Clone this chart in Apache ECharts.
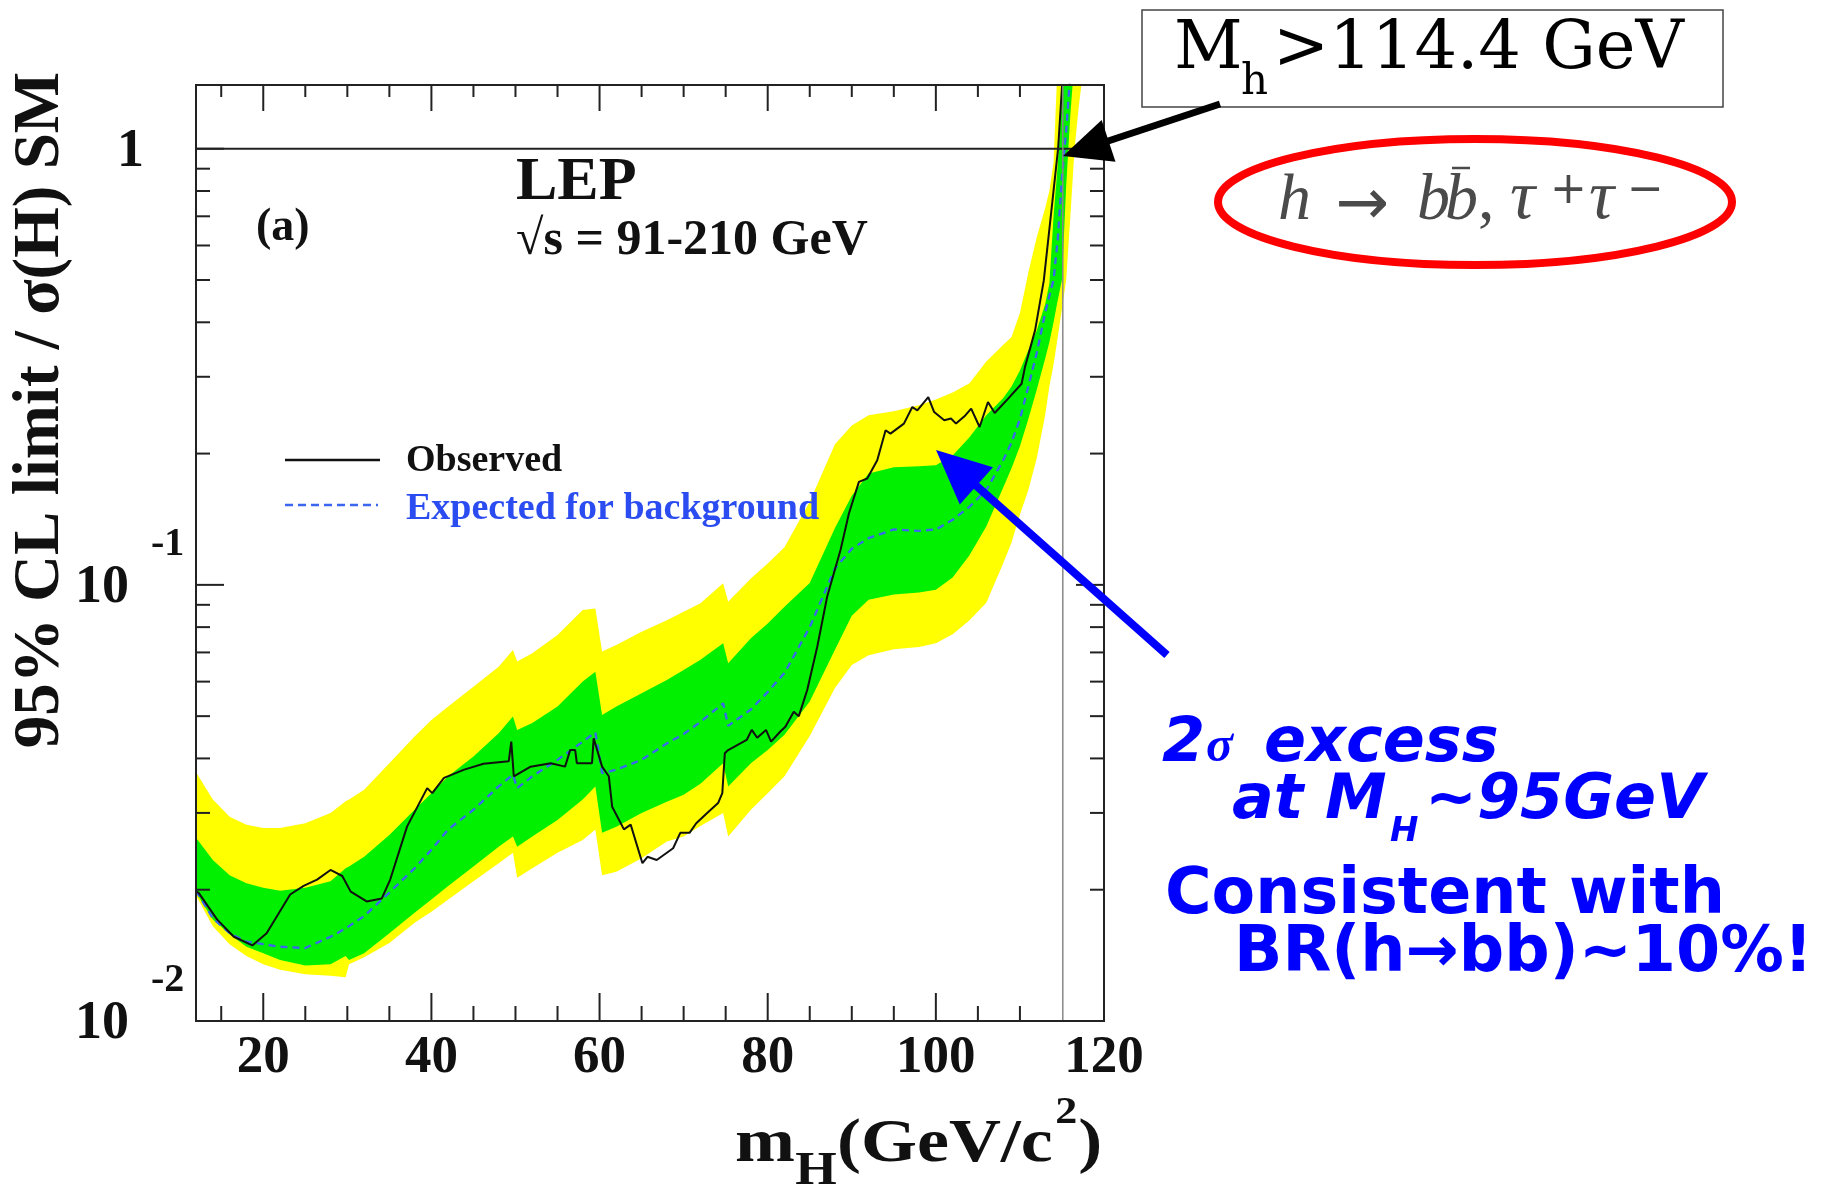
<!DOCTYPE html>
<html><head><meta charset="utf-8">
<script src="https://cdn.jsdelivr.net/npm/echarts@6/dist/echarts.min.js"></script>
<style>html,body{margin:0;padding:0;background:#fff}#c{width:1825px;height:1191px}</style>
</head><body><div id="c"></div>
<script>
// ---------- data ----------
const bandX = [12, 14, 16, 18, 20, 22, 25, 28, 29.8, 30.2, 32, 35, 38, 40, 42, 45, 48, 49.7, 50.2, 52, 55, 58, 59.5, 60.3, 62, 65, 68, 70, 72, 74.7, 75.3, 78, 80, 82, 85, 88, 90, 92, 95, 98, 100, 102, 104, 106, 108, 109, 110, 111, 112, 113, 113.5, 114, 114.5, 115, 115.5, 116, 116.5, 117, 117.5, 118, 120];
const yellowUp = [0.0372, 0.0322, 0.0294, 0.0282, 0.0277, 0.0277, 0.0284, 0.0300, 0.0319, 0.0322, 0.0339, 0.0390, 0.0449, 0.0490, 0.0526, 0.0584, 0.0649, 0.0709, 0.0667, 0.0697, 0.0767, 0.0876, 0.0883, 0.0703, 0.0728, 0.0781, 0.0830, 0.0868, 0.0907, 0.1008, 0.0915, 0.1034, 0.1119, 0.1220, 0.1550, 0.2100, 0.2320, 0.2450, 0.2500, 0.2580, 0.2660, 0.2760, 0.2900, 0.3250, 0.3550, 0.3700, 0.4200, 0.5200, 0.6270, 0.7300, 0.8000, 0.9300, 1.6, 3, 4, 5, 6, 7, 8, 9, 10];
const greenUp = [0.0263, 0.0234, 0.0216, 0.0207, 0.0202, 0.0199, 0.0202, 0.0209, 0.0224, 0.0226, 0.0238, 0.0267, 0.0305, 0.0333, 0.0364, 0.0404, 0.0457, 0.0499, 0.0465, 0.0482, 0.0526, 0.0600, 0.0632, 0.0503, 0.0526, 0.0564, 0.0605, 0.0638, 0.0673, 0.0735, 0.0661, 0.0754, 0.0816, 0.0891, 0.1010, 0.1350, 0.1600, 0.1800, 0.1860, 0.1870, 0.1880, 0.1980, 0.2180, 0.2450, 0.2680, 0.2850, 0.3100, 0.3450, 0.3830, 0.4400, 0.4900, 0.7000, 0.9200, 1.3, 2.0, 3.0, 4, 5, 6, 7, 8];
const expected = [0.0199, 0.0172, 0.0159, 0.0152, 0.0150, 0.0148, 0.0147, 0.0156, 0.0163, 0.0165, 0.0174, 0.0197, 0.0224, 0.0247, 0.0275, 0.0305, 0.0345, 0.0367, 0.0342, 0.0364, 0.0397, 0.0437, 0.0459, 0.0370, 0.0377, 0.0397, 0.0433, 0.0455, 0.0485, 0.0535, 0.0475, 0.0518, 0.0568, 0.0628, 0.0800, 0.1090, 0.1210, 0.1280, 0.1340, 0.1330, 0.1340, 0.1410, 0.1510, 0.1650, 0.1930, 0.2120, 0.2400, 0.2850, 0.3400, 0.4200, 0.4600, 0.5000, 0.6200, 0.8600, 1.1, 1.5, 2.0, 2.8, 3.5, 4.5, 6];
const greenLo = [0.0197, 0.0171, 0.0158, 0.0148, 0.0143, 0.0138, 0.0134, 0.0135, 0.0141, 0.0138, 0.0143, 0.0159, 0.0177, 0.0190, 0.0204, 0.0226, 0.0251, 0.0265, 0.0251, 0.0265, 0.0289, 0.0322, 0.0345, 0.0270, 0.0279, 0.0300, 0.0318, 0.0330, 0.0350, 0.0390, 0.0345, 0.0390, 0.0418, 0.0453, 0.0540, 0.0710, 0.0850, 0.0925, 0.0950, 0.0960, 0.0975, 0.1040, 0.1170, 0.1360, 0.1670, 0.1850, 0.2080, 0.2400, 0.2800, 0.3300, 0.3600, 0.4000, 0.4500, 0.5000, 0.8200, 1.2, 1.6, 2.2, 3.0, 4.0, 5];
const yellowLo = [0.0194, 0.0165, 0.0150, 0.0141, 0.0135, 0.0131, 0.0128, 0.0127, 0.0126, 0.0135, 0.0140, 0.0151, 0.0168, 0.0178, 0.0190, 0.0209, 0.0230, 0.0243, 0.0213, 0.0224, 0.0243, 0.0260, 0.0275, 0.0216, 0.0220, 0.0236, 0.0258, 0.0265, 0.0280, 0.0300, 0.0265, 0.0305, 0.0333, 0.0364, 0.0450, 0.0580, 0.0655, 0.0690, 0.0712, 0.0720, 0.0735, 0.0770, 0.0830, 0.0910, 0.1120, 0.1250, 0.1450, 0.1650, 0.1950, 0.2450, 0.2850, 0.3200, 0.3700, 0.4300, 0.5000, 0.7000, 1.0, 1.25, 1.5, 2.0, 3];

const obsX = [12, 12.3, 14.5, 16.5, 18.7, 20.4, 23.2, 24.8, 26.4, 28.0, 29.4, 30.4, 32.3, 34.1, 35.1, 37.1, 39.5, 40.1, 41.5, 43.9, 46.2, 49.2, 49.5, 49.8, 51.8, 54.2, 55.9, 56.5, 57.1, 57.3, 59.1, 59.3, 60.3, 61.1, 61.5, 62.9, 63.7, 65.1, 65.7, 66.8, 68.75, 69.6, 70.7, 71.5, 72.8, 74.1, 74.6, 74.9, 75.3, 77.5, 78.1, 78.75, 79.8, 80.4, 81.5, 82.1, 83.1, 83.7, 84.7, 85.9, 87.07, 88.66, 89.66, 90.85, 91.84, 93.03, 94.02, 94.6, 96.2, 97.2, 97.8, 99.1, 99.8, 101.0, 101.8, 102.4, 103.4, 104.2, 105.2, 106.2, 107.0, 108.6, 110.2, 110.6, 111.8, 112.84, 113.83, 114.54, 115.0, 115.4];
const obsY = [0.0198, 0.0197, 0.0171, 0.0156, 0.0149, 0.0159, 0.0195, 0.0204, 0.0211, 0.0222, 0.0215, 0.0198, 0.0188, 0.0191, 0.0211, 0.0279, 0.0342, 0.0333, 0.0361, 0.0377, 0.0389, 0.0394, 0.0437, 0.0364, 0.0383, 0.0390, 0.0383, 0.0418, 0.0418, 0.0390, 0.0390, 0.0445, 0.0383, 0.0364, 0.0310, 0.0275, 0.0282, 0.0230, 0.0238, 0.0234, 0.0249, 0.0270, 0.0270, 0.0284, 0.0300, 0.0316, 0.0333, 0.0411, 0.0418, 0.0441, 0.0465, 0.0446, 0.0465, 0.0437, 0.0461, 0.0473, 0.0512, 0.0500, 0.0574, 0.0722, 0.0939, 0.1202, 0.1458, 0.1722, 0.1753, 0.1931, 0.2262, 0.2222, 0.2343, 0.2557, 0.2513, 0.2696, 0.2490, 0.2384, 0.2406, 0.2343, 0.2435, 0.2535, 0.2301, 0.2626, 0.2478, 0.2673, 0.2892, 0.3157, 0.3833, 0.4990, 0.7470, 1.0, 1.383, 2.0];

const xMin = 12, xMax = 120, yMin = 0.01, yMax = 1.4;
const xTickVals = [15, 20, 25, 30, 35, 40, 45, 50, 55, 60, 65, 70, 75, 80, 85, 90, 95, 100, 105, 110, 120];
const xMajor = [20, 40, 60, 80, 100, 120];
const xLabels = ['20', '40', '60', '80', '100', '120'];
const yTickVals = [0.02, 0.03, 0.04, 0.05, 0.06, 0.07, 0.08, 0.09, 0.1, 0.2, 0.3, 0.4, 0.5, 0.6, 0.7, 0.8, 0.9, 1];
const yMajor = [0.1, 1];
const yLabelVals = [1, 0.1, 0.01];
const yLabelBase = ['1', '10', '10'];
const yLabelExp = ['', '-1', '-2'];
const limitMass = 115.1;
const refLine = 1;

// ---------- helpers ----------
const SERIF = '"Liberation Serif", "Times New Roman", serif';
const SANS = '"DejaVu Sans", sans-serif';
function font(size, weight, style, fam) { return (style || 'normal') + ' ' + (weight || 'normal') + ' ' + size + 'px ' + fam; }
function T(text, x, base, size, fam, weight, style, fill, align, extra) {
  const o = { type: 'text', x: x, y: base - 0.33 * size, z: 100,
    style: { text: text, x: 0, y: 0, font: font(size, weight, style, fam), fill: fill || '#000',
      textAlign: align || 'left', align: align || 'left', textVerticalAlign: 'middle', verticalAlign: 'middle' } };
  if (extra) Object.assign(o, extra);
  return o;
}
function arrow(x0, y0, x1, y1, L, W, lw, color) {
  const dx = x1 - x0, dy = y1 - y0, len = Math.hypot(dx, dy);
  const ux = dx / len, uy = dy / len, nx = -uy, ny = ux;
  const bx = x1 - ux * L, by = y1 - uy * L;
  return [
    { type: 'line', z: 100, shape: { x1: x0, y1: y0, x2: bx + ux * 2, y2: by + uy * 2 }, style: { stroke: color, lineWidth: lw } },
    { type: 'polygon', z: 100, shape: { points: [[x1, y1], [bx + nx * W, by + ny * W], [bx - nx * W, by - ny * W]] }, style: { fill: color } }
  ];
}

function bandPoints(api, lo, hi) {
  const pts = [];
  for (let i = 0; i < bandX.length; i++) pts.push(api.coord([bandX[i], hi[i]]));
  for (let i = bandX.length - 1; i >= 0; i--) pts.push(api.coord([bandX[i], lo[i]]));
  return pts;
}

function renderFrame(params, api) {
  const cs = params.coordSys;
  const x0 = cs.x, y0 = cs.y, x1 = cs.x + cs.width, y1 = cs.y + cs.height;
  const ch = [];
  const ln = (a, b, c, d, w) => ({ type: 'line', shape: { x1: a, y1: b, x2: c, y2: d }, style: { stroke: '#222', lineWidth: w || 2 } });
  xTickVals.forEach(v => {
    const px = api.coord([v, yMin])[0];
    const maj = xMajor.indexOf(v) >= 0;
    ch.push(ln(px, y1, px, y1 - (maj ? 28 : 15)), ln(px, y0, px, y0 + (maj ? 26 : 12)));
  });
  yTickVals.forEach(v => {
    const py = api.coord([xMin, v])[1];
    const L = yMajor.indexOf(v) >= 0 ? 28 : 14;
    ch.push(ln(x0, py, x0 + L, py), ln(x1, py, x1 - L, py));
  });
  ch.push({ type: 'rect', shape: { x: x0, y: y0, width: cs.width, height: cs.height }, style: { fill: 'none', stroke: '#222', lineWidth: 2 } });
  xMajor.forEach((v, i) => {
    const p = api.coord([v, yMin]);
    ch.push({ type: 'text', x: p[0], y: p[1] + 37, style: { text: xLabels[i], x: 0, y: 0, font: font(53, 'bold', 'normal', SERIF), fill: '#111',
      textAlign: 'center', align: 'center', textVerticalAlign: 'middle', verticalAlign: 'middle' } });
  });
  yLabelVals.forEach((v, i) => {
    const p = api.coord([xMin, v]);
    if (!yLabelExp[i]) {
      ch.push({ type: 'text', x: x0 - 52, y: p[1] + 3, style: { text: yLabelBase[i], x: 0, y: 0, font: font(54, 'bold', 'normal', SERIF), fill: '#111',
        textAlign: 'right', align: 'right', textVerticalAlign: 'middle', verticalAlign: 'middle' } });
    } else {
      ch.push({ type: 'text', x: x0 - 67, y: p[1] + 3, style: { text: yLabelBase[i], x: 0, y: 0, font: font(54, 'bold', 'normal', SERIF), fill: '#111',
        textAlign: 'right', align: 'right', textVerticalAlign: 'middle', verticalAlign: 'middle' } });
      ch.push({ type: 'text', x: x0 - 45, y: p[1] - 40, style: { text: yLabelExp[i], x: 0, y: 0, font: font(40, 'bold', 'normal', SERIF), fill: '#111',
        textAlign: 'left', align: 'left', textVerticalAlign: 'middle', verticalAlign: 'middle' } });
    }
  });
  return { type: 'group', children: ch };
}

// ---------- annotations ----------
const graphics = [];
// box with limit
graphics.push({ type: 'rect', z: 99, shape: { x: 1142, y: 10, width: 581, height: 97 }, style: { fill: '#fff', stroke: '#444', lineWidth: 1.5 } });
graphics.push(T('M', 1174, 73, 67, '"DejaVu Serif", serif', 'normal', 'normal', '#000'));
graphics.push(T('h', 1241, 97, 42, '"DejaVu Serif", serif', 'normal', 'normal', '#000'));
graphics.push(T('>114.4 GeV', 1273, 73, 67, '"DejaVu Serif", serif', 'normal', 'normal', '#000'));
arrow(1220, 104, 1063, 156, 48, 22, 7, '#000').forEach(g => graphics.push(g));
// red ellipse with decay channels
graphics.push({ type: 'ellipse', z: 99, shape: { cx: 1475, cy: 202, rx: 257, ry: 63 }, style: { fill: 'none', stroke: '#ff0000', lineWidth: 8 } });
const GR = '#4a4a4a';
graphics.push(T('h', 1278, 223, 66, SERIF, 'normal', 'italic', GR));
graphics.push(T('\u2192', 1362, 228, 64, SANS, 'normal', 'normal', GR, 'center'));
graphics.push(T('b', 1417, 223, 66, SERIF, 'normal', 'italic', GR));
graphics.push(T('b', 1445, 223, 66, SERIF, 'normal', 'italic', GR));
graphics.push({ type: 'line', z: 100, shape: { x1: 1452, y1: 168, x2: 1470, y2: 168 }, style: { stroke: GR, lineWidth: 2.5 } });
graphics.push(T(',', 1478, 223, 66, SERIF, 'normal', 'normal', GR));
graphics.push(T('\u03c4', 1510, 223, 70, SERIF, 'normal', 'italic', GR));
graphics.push(T('+', 1550, 206, 44, SANS, 'normal', 'normal', GR));
graphics.push(T('\u03c4', 1589, 223, 70, SERIF, 'normal', 'italic', GR));
graphics.push(T('\u2212', 1627, 206, 44, SANS, 'normal', 'normal', GR));
// blue arrow + text
const BL = '#0000ff';
arrow(1167, 655, 936, 450, 54, 25, 8, BL).forEach(g => graphics.push(g));
graphics.push(T('2', 1162, 765, 62, SANS, 'bold', 'italic', BL));
graphics.push(T('\u03c3', 1206, 765, 50, SERIF, 'bold', 'italic', BL));
graphics.push(T('excess', 1264, 765, 62, SANS, 'bold', 'italic', BL));
graphics.push(T('at M', 1232, 822, 62, SANS, 'bold', 'italic', BL));
graphics.push(T('H', 1390, 843, 34, SANS, 'bold', 'italic', BL));
graphics.push(T('~95GeV', 1425, 822, 62, SANS, 'bold', 'italic', BL));
graphics.push(T('Consistent with', 1165, 917, 63.5, SANS, 'bold', 'normal', BL));
graphics.push(T('BR(h\u2192bb)~10%!', 1234, 975, 63.5, SANS, 'bold', 'normal', BL));
// in-plot titles
graphics.push(T('(a)', 256, 243, 46, SERIF, 'bold', 'normal', '#111'));
graphics.push(T('LEP', 516, 203, 62, SERIF, 'bold', 'normal', '#111'));
graphics.push(T('\u221as = 91-210 GeV', 516, 258, 50, SERIF, 'bold', 'normal', '#111'));
// legend
graphics.push({ type: 'line', z: 100, shape: { x1: 285, y1: 460, x2: 380, y2: 460 }, style: { stroke: '#111', lineWidth: 2.5 } });
graphics.push({ type: 'line', z: 100, shape: { x1: 285, y1: 505, x2: 378, y2: 505 }, style: { stroke: '#3a66f0', lineWidth: 2.5, lineDash: [8, 5] } });
graphics.push(T('Observed', 406, 474, 38, SERIF, 'bold', 'normal', '#111'));
graphics.push(T('Expected for background', 406, 522, 38, SERIF, 'bold', 'normal', '#2b4cf0'));
// axis titles
graphics.push({ type: 'text', z: 100, x: 41, y: 410, rotation: Math.PI / 2,
  style: { text: '95% CL limit / \u03c3(H) SM', x: 0, y: 0, font: font(65, 'bold', 'normal', SERIF), fill: '#111',
    textAlign: 'center', align: 'center', textVerticalAlign: 'middle', verticalAlign: 'middle' } });
graphics.push({ type: 'group', z: 100, x: 735, y: 0, scaleX: 1.16, children: [
  T('m', 0, 1165, 62, SERIF, 'bold', 'normal', '#111'),
  T('H', 52, 1187, 46, SERIF, 'bold', 'normal', '#111'),
  T('(GeV/c', 88, 1165, 62, SERIF, 'bold', 'normal', '#111'),
  T('2', 276, 1126, 38, SERIF, 'bold', 'normal', '#111'),
  T(')', 296, 1165, 62, SERIF, 'bold', 'normal', '#111')
] });

// ---------- chart ----------
const chart = echarts.init(document.getElementById('c'), null, { renderer: 'canvas' });
const hidden = { axisLine: { show: false }, axisTick: { show: false }, axisLabel: { show: false }, splitLine: { show: false } };
chart.setOption({
  animation: false,
  backgroundColor: '#ffffff',
  grid: { left: 196, top: 85, width: 908, height: 936, show: false },
  xAxis: Object.assign({ type: 'value', min: xMin, max: xMax }, hidden),
  yAxis: Object.assign({ type: 'log', logBase: 10, min: yMin, max: yMax }, hidden),
  series: [
    { type: 'custom', name: 'bands', data: [[xMin, yMin]], clip: true, silent: true, z: 1,
      renderItem: (params, api) => ({ type: 'group', children: [
        { type: 'polygon', shape: { points: bandPoints(api, yellowLo, yellowUp) }, style: { fill: '#ffff00' } },
        { type: 'polygon', shape: { points: bandPoints(api, greenLo, greenUp) }, style: { fill: '#00f000' } }
      ] }) },
    { type: 'line', name: 'Expected for background', data: bandX.map((x, i) => [x, expected[i]]), symbol: 'none', clip: true, silent: true, z: 3,
      lineStyle: { color: '#3a66f0', width: 2.3, type: [7, 5] } },
    { type: 'line', name: 'Observed', data: obsX.map((x, i) => [x, obsY[i]]), symbol: 'none', clip: true, silent: true, z: 4,
      lineStyle: { color: '#111', width: 2 } },
    { type: 'line', name: 'ref', data: [[xMin, refLine], [xMax, refLine]], symbol: 'none', silent: true, z: 5,
      lineStyle: { color: '#222', width: 2 } },
    { type: 'line', name: 'limit', data: [[limitMass, yMin], [limitMass, yMax]], symbol: 'none', silent: true, z: 5,
      lineStyle: { color: '#888', width: 1.5 } },
    { type: 'custom', name: 'frame', data: [[xMin, yMin]], clip: false, silent: true, z: 8, renderItem: renderFrame }
  ],
  graphic: graphics
});
</script>
</body></html>
